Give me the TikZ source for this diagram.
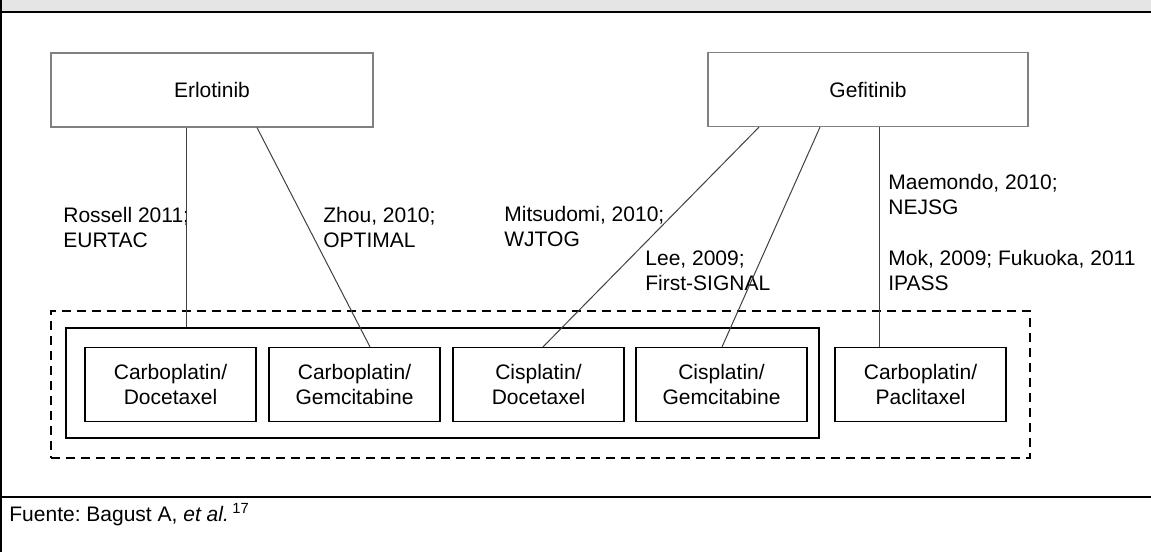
\documentclass[tikz,border=0pt]{standalone}
\usepackage{fontspec}
\setmainfont{Liberation Sans}
\usetikzlibrary{calc}
\frenchspacing

\tikzset{
    agent/.style={draw=black!50, line width=0.6pt, minimum width=161pt, minimum height=37pt, inner sep=0pt},
    regimen/.style={draw, line width=0.6pt, minimum width=85.5pt, minimum height=37pt, align=center, inner sep=0pt},
    study/.style={anchor=west, align=left, inner sep=0pt},
    link/.style={black!75, line width=0.5pt},
}

\begin{document}
\begin{tikzpicture}[x=0.5pt, y=-0.5pt, font=\fontsize{10.5}{12.5}\selectfont]
    \useasboundingbox (0,0) rectangle (1151,552);

    % table frame
    \fill[black!10] (0,0) rectangle (1151,12);
    \draw[line width=1.3pt] (0,12) -- (1151,12);
    \draw[line width=1pt] (1,0) -- (1,552);
    \draw[line width=1pt] (0,497) -- (1151,497);

    % drugs
    \node[agent] (erlo) at (212, 90) {Erlotinib};
    \node[agent, minimum width=160pt] (gefi) at (868, 89.5) {Gefitinib};

    % groups of regimens
    \node[draw, line width=1.4pt, dash pattern=on 4.5pt off 3pt, minimum width=489.5pt, minimum height=73.5pt] (any) at (540.5, 384.5) {};
    \node[draw, line width=1pt, minimum width=376.5pt, minimum height=55pt] (combo) at (442.5, 383) {};

    \node[regimen] (CD) at (170.5, 384.5) {Carboplatin/\\Docetaxel};
    \node[regimen] (CG) at (354.5, 384.5) {Carboplatin/\\Gemcitabine};
    \node[regimen] (XD) at (538.5, 384.5) {Cisplatin/\\Docetaxel};
    \node[regimen] (XG) at (721.5, 384.5) {Cisplatin/\\Gemcitabine};
    \node[regimen] (CP) at (920.5, 384.5) {Carboplatin/\\Paclitaxel};

    % trials
    \node[study] (rossell) at (63, 227.5) {Rossell 2011;\\EURTAC};
    \node[study] (zhou) at (323, 227.5) {Zhou, 2010;\\OPTIMAL};
    \node[study] (mitsudomi) at (504, 226.5) {Mitsudomi, 2010;\\WJTOG};
    \node[study] (lee) at (645, 270.5) {Lee, 2009;\\First-SIGNAL};
    \node[study] (maemondo) at (888, 194.5) {Maemondo, 2010;\\NEJSG};
    \node[study] (mok) at (888, 270.5) {Mok, 2009; Fukuoka, 2011\\IPASS};

    \coordinate (e1) at ($(erlo.south)+(-26,0)$);
    \coordinate (e2) at ($(erlo.south)+(45,0)$);
    \coordinate (g1) at ($(gefi.south)+(-109,0)$);
    \coordinate (g2) at ($(gefi.south)+(-48,0)$);
    \coordinate (g3) at ($(gefi.south)+(11,0)$);

    \draw[link] (e1) -- (e1 |- combo.north);
    \draw[link] (e2) -- ($(CG.north)+(15.5,0)$);
    \draw[link] (g1) -- ($(XD.north)+(4.5,0)$);
    \draw[link] (g2) -- ($(XG.north)+(0.5,0)$);
    \draw[link] (g3) -- (g3 |- CP.north);

    % source
    \node[anchor=west, inner sep=0pt] (fuente) at (9, 515) {Fuente: Bagust A, \textit{et al.}\,\textsuperscript{17}};
\end{tikzpicture}
\end{document}
